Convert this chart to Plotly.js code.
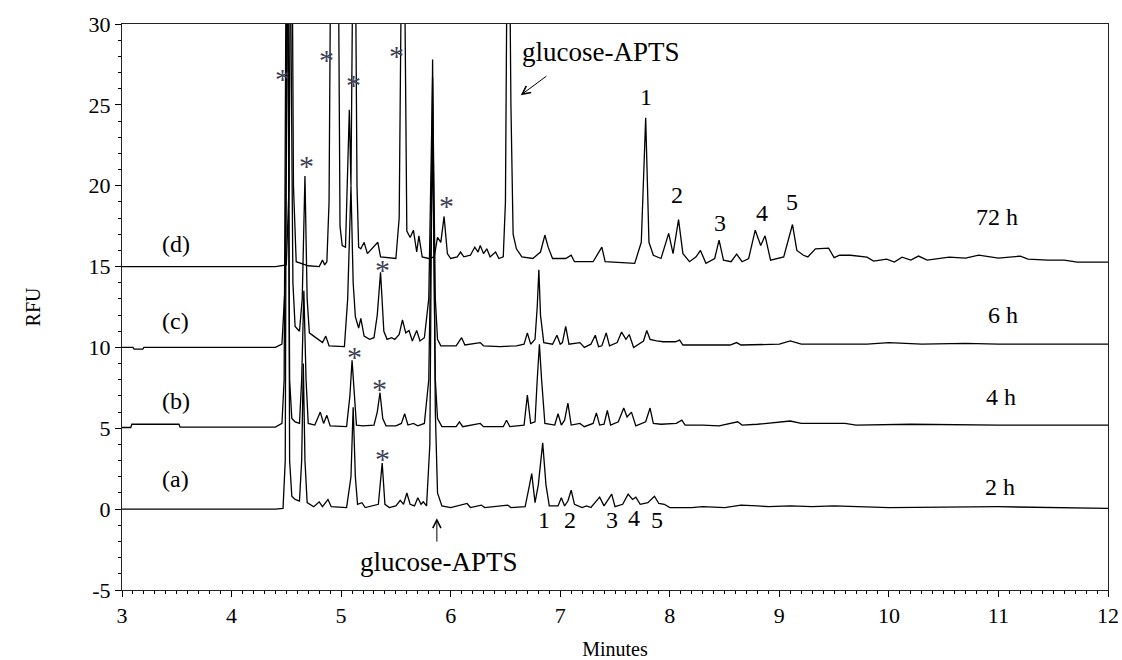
<!DOCTYPE html>
<html>
<head>
<meta charset="utf-8">
<script src="https://cdn.plot.ly/plotly-3.0.1.min.js"></script>
<style>html,body{margin:0;padding:0;background:#fff;}#chart{width:1122px;height:660px;}</style>
</head>
<body>
<div id="chart"></div>
<script>
// ---- trace (a) 2 h ----
const tA = [3.00,4.40,4.47,4.49,4.51,4.53,4.55,4.58,4.62,4.64,4.655,4.67,4.69,4.75,4.80,4.83,4.88,4.91,5.05,5.09,5.11,5.13,5.15,5.19,5.22,5.34,5.375,5.40,5.44,5.50,5.54,5.57,5.60,5.63,5.67,5.70,5.73,5.75,5.78,5.81,5.835,5.86,5.88,5.92,6.00,6.15,6.18,6.28,6.31,6.52,6.55,6.68,6.72,6.74,6.77,6.80,6.84,6.87,6.90,6.98,7.01,7.04,7.07,7.10,7.13,7.20,7.24,7.28,7.36,7.40,7.47,7.50,7.57,7.62,7.66,7.69,7.73,7.76,7.80,7.86,7.90,7.95,8.00,8.20,8.30,8.50,8.65,8.80,8.90,9.10,9.30,9.50,10.00,11.00,12.00];
const yA = [0.00,0.00,0.05,3,45,3,0.8,0.6,0.5,3,9,3,0.4,0.15,0.45,0.15,0.6,0.15,0.1,2,6.3,2,0.3,0.4,0.1,0.3,2.85,0.3,0.1,0.2,0.55,0.3,1.0,0.3,0.2,0.7,0.3,0.45,0.2,4,27.8,6,1,0.2,0.1,0.35,0.1,0.25,0.1,0.25,0.1,0.15,1.5,2.2,0.4,1.5,4.1,1.5,0.2,0.2,0.7,0.2,0.5,1.17,0.3,0.1,0.2,0.1,0.74,0.2,0.93,0.15,0.3,0.93,0.6,0.74,0.3,0.35,0.4,0.8,0.35,0.3,0.1,0.1,0.15,0.1,0.25,0.2,0.15,0.2,0.15,0.2,0.1,0.15,0.05];
// ---- trace (b) 4 h ----
const tB = [3.00,3.08,3.09,3.52,3.53,4.40,4.46,4.48,4.505,4.53,4.55,4.58,4.62,4.64,4.66,4.68,4.70,4.76,4.81,4.84,4.87,4.90,5.05,5.08,5.10,5.12,5.14,5.20,5.30,5.33,5.355,5.38,5.41,5.50,5.55,5.58,5.61,5.66,5.70,5.76,5.80,5.835,5.86,5.88,5.92,6.05,6.08,6.11,6.27,6.30,6.48,6.51,6.54,6.67,6.70,6.73,6.77,6.79,6.81,6.83,6.86,6.95,6.98,7.01,7.04,7.07,7.10,7.18,7.22,7.30,7.33,7.36,7.40,7.43,7.46,7.53,7.58,7.61,7.65,7.69,7.78,7.82,7.85,7.92,8.00,8.06,8.11,8.14,8.30,8.45,8.62,8.66,8.80,9.10,9.20,9.60,9.70,10.20,11.00,12.00];
const yB = [5.05,5.05,5.25,5.25,5.07,5.07,5.3,8,45,8,5.6,5.4,5.3,8,13.5,8,5.3,5.2,6.0,5.3,5.8,5.15,5.1,7,9.2,7,5.2,5.15,5.2,6,7.2,5.6,5.15,5.15,5.3,5.9,5.2,5.3,5.15,5.3,8,23,8,5.6,5.1,5.1,5.4,5.1,5.3,5.1,5.1,5.5,5.1,5.2,7.05,5.3,5.4,8,10.2,8,5.3,5.2,5.9,5.2,5.5,6.55,5.2,5.3,5.1,5.3,5.95,5.2,5.25,6.1,5.2,5.4,6.25,5.7,6.0,5.15,5.4,6.25,5.3,5.25,5.3,5.3,5.5,5.2,5.2,5.15,5.4,5.2,5.25,5.45,5.3,5.3,5.2,5.25,5.2,5.2];
// ---- trace (c) 6 h ----
const tC = [3.00,3.10,3.11,3.19,3.20,4.40,4.46,4.49,4.525,4.56,4.58,4.62,4.645,4.67,4.69,4.71,4.75,4.79,4.83,4.86,4.89,5.03,5.06,5.09,5.11,5.13,5.16,5.18,5.21,5.26,5.30,5.33,5.36,5.39,5.42,5.46,5.49,5.53,5.56,5.59,5.62,5.65,5.69,5.72,5.76,5.80,5.835,5.86,5.88,5.91,6.05,6.10,6.13,6.27,6.30,6.45,6.60,6.67,6.70,6.73,6.77,6.79,6.805,6.82,6.85,6.93,6.97,7.00,7.02,7.05,7.08,7.18,7.22,7.28,7.32,7.35,7.38,7.42,7.45,7.52,7.56,7.60,7.63,7.67,7.76,7.79,7.82,7.88,7.94,8.05,8.09,8.12,8.55,8.61,8.65,9.00,9.10,9.20,9.80,10.00,10.30,10.70,11.00,12.00];
const yC = [10.0,10.0,9.9,9.9,10.0,10.0,10.2,14,45,14,11.3,11.0,13,20.6,13,10.9,10.7,10.5,10.3,10.7,10.1,10.05,13,20,14,11.9,11.2,11.8,10.7,10.5,10.6,12,14.65,11,10.5,10.6,10.5,10.8,11.7,10.9,11.05,10.4,11.05,10.4,10.6,13,26.7,13,10.5,10.1,10.1,10.6,10.15,10.3,10.1,10.05,10.1,10.2,10.9,10.2,10.5,12.5,14.8,12,10.3,10.2,10.75,10.2,10.3,11.3,10.2,10.3,10.0,10.2,10.75,10.05,10.1,10.9,10.1,10.3,10.95,10.5,10.8,10.0,10.4,11.05,10.5,10.4,10.35,10.35,10.45,10.15,10.15,10.3,10.15,10.2,10.4,10.2,10.2,10.3,10.2,10.25,10.2,10.2];
// ---- trace (d) 72 h ----
const tD = [3.00,4.40,4.50,4.525,4.545,4.565,4.59,4.70,4.80,4.83,4.85,4.87,4.89,4.91,4.97,4.99,5.01,5.04,5.075,5.09,5.12,5.145,5.16,5.18,5.21,5.24,5.335,5.36,5.50,5.53,5.565,5.60,5.63,5.66,5.69,5.71,5.74,5.80,5.85,5.88,5.91,5.94,5.97,6.00,6.06,6.09,6.12,6.18,6.22,6.25,6.27,6.30,6.33,6.36,6.41,6.44,6.48,6.50,6.525,6.55,6.57,6.60,6.65,6.75,6.82,6.86,6.89,6.93,7.05,7.10,7.13,7.30,7.38,7.41,7.68,7.74,7.78,7.81,7.85,7.92,7.99,8.03,8.08,8.12,8.18,8.24,8.28,8.33,8.41,8.45,8.49,8.56,8.61,8.66,8.72,8.78,8.83,8.87,8.92,9.04,9.12,9.16,9.22,9.26,9.33,9.45,9.50,9.55,9.65,9.80,9.86,9.98,10.05,10.12,10.20,10.27,10.35,10.55,10.70,10.82,11.00,11.20,11.27,11.45,11.60,11.72,12.00];
const yD = [15.0,15.0,15.1,20,45,20,15.3,15.05,15.0,15.4,15.1,15.3,19,40,40,17.5,16.3,16.2,24.7,20,45,20,16.2,16.1,16.5,15.8,16.5,15.6,15.5,18,45,17.2,16.8,17.25,15.9,16.9,15.6,15.5,15.6,16.8,16.5,18.1,15.8,15.5,15.6,15.9,15.6,15.7,16.2,15.9,16.3,15.8,16.1,15.6,15.9,15.5,15.6,19,45,25,17,16.1,15.6,15.5,15.9,16.95,16.2,15.5,15.5,15.7,15.3,15.3,16.2,15.3,15.2,16.5,24.2,16.5,15.7,15.5,17.05,15.8,17.9,15.8,15.3,15.6,16.0,15.2,15.5,16.64,15.4,15.3,15.77,15.3,15.5,17.25,16.3,16.9,15.4,15.6,17.6,16.0,15.7,15.6,16.1,16.14,15.55,15.71,15.7,15.58,15.34,15.46,15.28,15.58,15.40,15.65,15.40,15.58,15.52,15.71,15.52,15.65,15.46,15.40,15.40,15.28,15.28];

// ---- tick labels ----
const yTickVals = [-5,0,5,10,15,20,25,30];
const yTickText = ['-5','0','5','10','15','20','25','30'];

// ---- labels ----
const seriesTags = ['(a)','(b)','(c)','(d)'];
const tagT = [3.49,3.49,3.49,3.49];
const tagV = [1.86,6.68,11.63,16.39];
const timeTags = ['2 h','4 h','6 h','72 h'];
const timeT = [11.01,11.02,11.04,10.99];
const timeV = [1.36,6.93,12.0,18.06];
const peakNums = ['1','2','3','4','5'];
const numDT = [7.78,8.07,8.46,8.84,9.12];
const numDV = [25.48,19.42,17.69,18.31,18.99];
const numAT = [6.85,7.09,7.47,7.67,7.88];
const numAV = [-0.68,-0.68,-0.68,-0.56,-0.68];
const starT = [4.469,4.870,5.117,4.688,5.509,5.965,5.381,5.126,5.354,5.381];
const starV = [26.6,27.8,26.25,21.25,28.05,18.77,14.81,9.43,7.45,3.13];

const font = 'Liberation Serif, Times New Roman, serif';
const lineStyle = {color:'#000', width:1.3};
const traces = [[tA,yA],[tB,yB],[tC,yC],[tD,yD]].map(([x,y]) => {
  if (x.length !== y.length) console.error('length mismatch', x.length, y.length);
  return {x, y, type:'scatter', mode:'lines', line:lineStyle, hoverinfo:'skip', showlegend:false};
});

const ann = [];
seriesTags.forEach((s,i)=>ann.push({x:tagT[i], y:tagV[i], text:s, showarrow:false, font:{family:font,size:24,color:'#000'}}));
timeTags.forEach((s,i)=>ann.push({x:timeT[i], y:timeV[i], text:s, showarrow:false, font:{family:font,size:24,color:'#000'}}));
peakNums.forEach((s,i)=>{
  ann.push({x:numDT[i], y:numDV[i], text:s, showarrow:false, font:{family:font,size:24,color:'#000'}});
  ann.push({x:numAT[i], y:numAV[i], text:s, showarrow:false, font:{family:font,size:24,color:'#000'}});
});
starT.forEach((t,i)=>ann.push({x:t, y:starV[i], text:'*', showarrow:false, font:{family:font,size:30,color:'#3d3f55'}}));
// glucose-APTS labels and arrows
ann.push({x:7.37, y:28.26, text:'glucose-APTS', showarrow:false, font:{family:font,size:27,color:'#000'}});
ann.push({x:6.64, y:25.6, ax:6.887, ay:26.84, axref:'x', ayref:'y', text:'', showarrow:true, arrowhead:5, arrowsize:1.6, arrowwidth:1, arrowcolor:'#000'});
ann.push({x:5.892, y:-3.28, text:'glucose-APTS', showarrow:false, font:{family:font,size:27,color:'#000'}});
ann.push({x:5.874, y:-0.56, ax:5.874, ay:-2.1, axref:'x', ayref:'y', text:'', showarrow:true, arrowhead:5, arrowsize:1.6, arrowwidth:1, arrowcolor:'#000'});

const axisCommon = {
  showgrid:false, zeroline:false, showline:true, mirror:true, linecolor:'#222', linewidth:1,
  ticks:'outside', ticklen:6, tickcolor:'#000', tickwidth:1,
  tickfont:{family:font, size:22, color:'#000'}
};
const layout = {
  width:1122, height:660,
  margin:{l:122, r:14, t:24, b:70},
  paper_bgcolor:'#fff', plot_bgcolor:'#fff',
  xaxis: Object.assign({}, axisCommon, {range:[3,12], dtick:1, tick0:3,
    minor:{dtick:0.1, ticks:'outside', ticklen:3, tickcolor:'#000', showgrid:false},
    title:{text:'Minutes', font:{family:font,size:20,color:'#000'}, standoff:14}}),
  yaxis: Object.assign({}, axisCommon, {range:[-5,30], tickmode:'array', tickvals:yTickVals, ticktext:yTickText,
    minor:{dtick:1, tick0:0, ticks:'outside', ticklen:3, tickcolor:'#000', showgrid:false},
    title:{text:'RFU', font:{family:font,size:20,color:'#000'}, standoff:42}}),
  annotations: ann,
  showlegend:false
};
Plotly.newPlot('chart', traces, layout, {displayModeBar:false, staticPlot:true});
</script>
</body>
</html>
